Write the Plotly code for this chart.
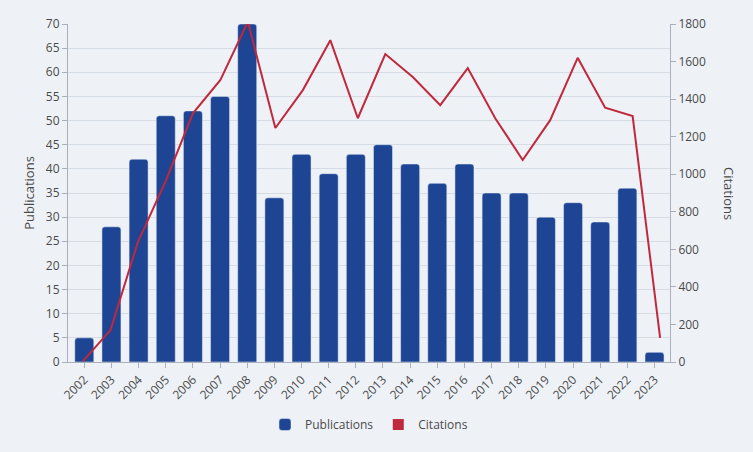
import plotly.graph_objects as go

# Data
years = [str(y) for y in range(2002, 2024)]
publications = [5, 28, 42, 51, 52, 55, 70, 34, 43, 39, 43, 45, 41, 37, 41, 35, 35, 30, 33, 29, 36, 2]
citations = [5, 170, 640, 960, 1324, 1502, 1812, 1246, 1448, 1714, 1298, 1640, 1518, 1368,
             1565, 1298, 1076, 1288, 1620, 1354, 1310, 128]

bar_color = '#1e4494'
line_color = '#c0283d'
bg_color = '#eef2f7'
grid_color = '#d6dce4'
axis_color = '#a9b0ba'
text_color = '#4a4a4a'

fig = go.Figure()

fig.add_trace(go.Bar(
    x=years, y=publications,
    name='Publications',
    marker=dict(color=bar_color, cornerradius=3),
    width=0.7,
    yaxis='y',
))

# citations line sits on its own (slightly wider) category axis
fig.add_trace(go.Scatter(
    x=list(range(len(years))), y=citations,
    name='Citations',
    mode='lines',
    line=dict(color=line_color, width=2),
    xaxis='x2', yaxis='y2',
    showlegend=False,
))

# legend entry drawn as a square like the reference
fig.add_trace(go.Scatter(
    x=[None], y=[None],
    name='Citations',
    mode='markers',
    marker=dict(color=line_color, symbol='square', size=11),
    xaxis='x2', yaxis='y2',
))

fig.update_layout(
    width=753, height=452,
    margin=dict(l=68, r=83, t=24, b=90),
    paper_bgcolor=bg_color,
    plot_bgcolor=bg_color,
    font=dict(family='Open Sans, Noto Sans, sans-serif', size=12, color=text_color),
    bargap=0.3,
    xaxis=dict(
        type='category',
        range=[-0.6, 21.57],
        tickangle=-45,
        ticks='outside', ticklen=5, tickcolor=axis_color,
        showline=True, linecolor=axis_color, linewidth=1,
        showgrid=False,
        tickfont=dict(size=12),
    ),
    xaxis2=dict(
        overlaying='x',
        range=[-0.546, 21.36],
        visible=False,
    ),
    yaxis=dict(
        range=[0, 70],
        dtick=5,
        ticks='outside', ticklen=5, tickcolor=axis_color,
        showline=True, linecolor=axis_color, linewidth=1,
        gridcolor=grid_color, zeroline=False,
        title=dict(text='Publications', font=dict(size=13), standoff=8),
    ),
    yaxis2=dict(
        overlaying='y',
        side='right',
        range=[0, 1800],
        dtick=200,
        ticks='outside', ticklen=5, tickcolor=axis_color,
        showline=True, linecolor=axis_color, linewidth=1,
        showgrid=False, zeroline=False,
    ),
    legend=dict(
        orientation='h',
        x=0.5, xanchor='center',
        y=-0.185, yanchor='middle',
        font=dict(size=12),
        itemwidth=30,
        itemclick=False,
    ),
    annotations=[dict(
        text='Citations',
        xref='paper', yref='paper',
        x=1.0, y=0.5,
        xshift=70,
        textangle=90,
        showarrow=False,
        font=dict(size=13, color=text_color),
    )],
)

fig.write_html('out.html', config={'displayModeBar': False},
               post_script="document.body.style.margin='0';")
